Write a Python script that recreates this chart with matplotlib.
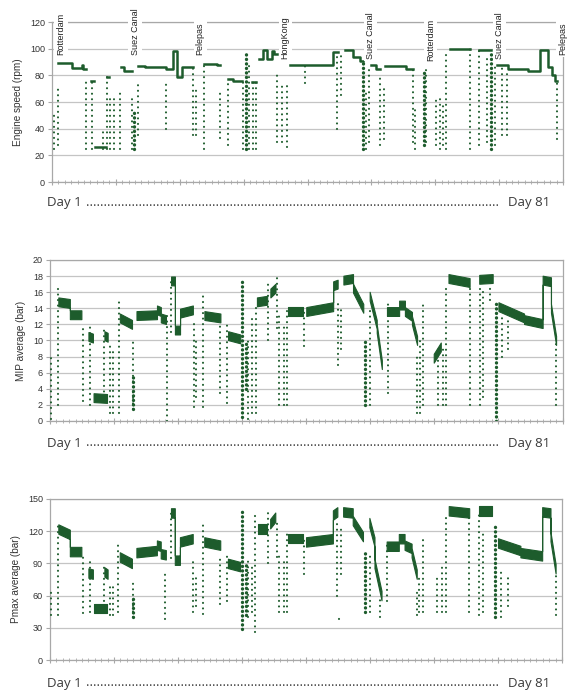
import matplotlib
matplotlib.use("Agg")
import matplotlib.pyplot as plt
import numpy as np
from matplotlib.ticker import MultipleLocator

# days run 0..80 (Day 1 .. Day 81)
GREEN = "#1d5c2c"
GRID = "#c4c4c4"
FRAME = "#a8a8a8"
TXT = "#333333"

# ---- engine speed (rpm): steady levels (day_from, day_to, rpm)
engine_levels = [
    (1.0, 3.2, 89.5), (3.2, 4.7, 85.5), (4.7, 4.9, 88), (4.9, 5.3, 85),
    (6.05, 6.6, 76), (6.7, 8.45, 26), (8.55, 8.85, 79),
    (10.8, 11.3, 86), (11.3, 12.6, 83),
    (13.4, 14.55, 87), (14.55, 17.9, 86), (17.9, 19.0, 84.5), (19.0, 19.5, 98.5),
    (19.5, 20.3, 79), (20.3, 22.1, 86),
    (23.8, 25.8, 88.5), (25.8, 26.3, 87.5),
    (27.6, 28.4, 77.5), (28.4, 29.7, 76),
    (31.3, 32.0, 75),
    (32.45, 33.1, 92.5), (33.1, 33.6, 99), (33.6, 34.4, 92), (34.4, 34.75, 98), (34.75, 35.2, 96),
    (37.25, 44.0, 87.5), (44.0, 44.75, 97.5),
    (45.85, 47.1, 98.75), (47.1, 48.2, 94), (48.2, 48.7, 91),
    (49.9, 50.7, 88), (50.7, 51.3, 85),
    (52.1, 55.4, 87), (55.4, 56.5, 85),
    (62.3, 65.4, 100),
    (66.8, 68.7, 99),
    (69.6, 71.4, 88), (71.4, 74.5, 84.5), (74.5, 76.4, 83),
    (76.4, 77.6, 99), (77.6, 78.2, 86), (78.2, 78.7, 80), (78.7, 79.0, 76),
]
# scattered readings (day, low, high)
engine_dips = [
    (0.3, 25, 51), (1.0, 28, 70), (5.3, 25, 75), (6.2, 25, 76), (8.0, 25, 40), (8.6, 25, 80),
    (9.1, 25, 65), (9.7, 25, 65), (10.7, 25, 70), (12.6, 25, 65), (13.4, 35, 75), (17.8, 40, 75),
    (22.1, 35, 86), (22.5, 35, 70), (23.8, 25, 88), (26.3, 33, 70), (27.5, 28, 75), (29.9, 25, 75),
    (30.8, 25, 90), (31.5, 25, 75), (32.0, 25, 75), (35.2, 30, 80), (36.0, 30, 75), (36.8, 26, 75),
    (39.6, 74, 87), (44.6, 40, 97), (45.2, 65, 97), (49.2, 25, 70), (49.7, 30, 88), (51.4, 28, 80),
    (52.0, 32, 70), (56.5, 30, 85), (56.9, 25, 55), (58.6, 30, 85), (60.1, 28, 62), (60.7, 25, 65),
    (61.2, 28, 60), (61.7, 25, 99), (65.4, 25, 100), (66.8, 28, 99), (68.1, 30, 95), (69.3, 28, 88),
    (70.4, 35, 88), (71.2, 35, 85), (79.0, 32, 76),
]
engine_blobs = [(12.9, 25, 55), (30.4, 25, 98), (48.7, 25, 91), (58.2, 28, 85), (68.8, 25, 99)]

ports = ["Rotterdam", "Suez Canal", "Pelepas", "HongKong", "Suez Canal", "Rotterdam", "Suez Canal", "Pelepas"]
port_days = [1.4, 13.0, 23.2, 36.5, 49.8, 59.3, 70.1, 79.9]
port_base = [95, 95, 95, 92, 92, 91, 92, 95]

# ---- MIP average (bar): (day_from, day_to, value_from, value_to)
mip_levels = [
    (1.3, 3.1, 14.8, 14.6), (3.1, 4.9, 13.2, 13.2),
    (6.0, 6.7, 10.5, 10.3), (6.8, 8.9, 2.9, 2.8), (8.5, 9.0, 10.6, 10.4),
    (10.9, 12.8, 12.8, 12.0),
    (13.5, 16.7, 13.1, 13.2), (16.7, 17.3, 13.8, 13.6), (17.3, 18.1, 12.8, 12.6),
    (18.9, 19.5, 17.4, 17.4), (19.5, 20.3, 11.3, 11.3), (20.3, 22.3, 13.4, 13.8),
    (24.1, 26.6, 13.1, 12.8),
    (27.8, 29.7, 10.6, 10.2),
    (32.3, 33.9, 14.8, 15.0), (34.4, 35.2, 15.9, 16.5),
    (37.2, 39.5, 13.6, 13.6), (40.0, 44.2, 13.6, 14.2), (44.2, 44.9, 16.8, 17.0),
    (45.8, 47.3, 17.5, 17.7), (47.3, 48.9, 16.5, 14.0),
    (49.9, 51.0, 15.5, 12.0), (51.0, 51.8, 11.5, 7.0),
    (52.6, 54.5, 13.6, 13.6), (54.5, 55.4, 14.4, 14.4), (55.4, 56.5, 13.6, 13.0), (56.5, 57.3, 12.5, 10.0),
    (59.9, 61.0, 7.8, 9.2),
    (62.2, 65.5, 17.7, 17.2),
    (67.0, 69.1, 17.6, 17.7),
    (70.0, 74.0, 14.2, 12.8), (74.0, 76.9, 12.6, 12.1),
    (76.9, 78.2, 17.5, 17.3), (78.2, 79.0, 14.0, 10.0),
]
mip_dips = [
    (0.2, 0.3, 8), (1.2, 2, 16.5), (5.2, 2.5, 12), (6.2, 2, 12), (8.5, 3, 11.3), (9.4, 1, 9.5),
    (9.9, 1, 9), (10.7, 1, 14.8), (13.0, 1.5, 10), (18.2, 0, 13), (18.9, 11, 17.5), (22.4, 1.8, 12),
    (22.8, 3, 10), (23.9, 1.8, 15.8), (26.6, 3.5, 12.5), (27.7, 2.2, 12.3), (30.9, 0.2, 10),
    (31.6, 1, 13), (32.1, 1, 14), (34.1, 10, 17.5), (35.4, 11.5, 18.3), (35.8, 2, 13), (36.5, 2, 12),
    (37.0, 2, 14), (39.7, 9.3, 13.5), (44.9, 7, 15), (45.4, 9, 14), (50.0, 2, 14), (52.7, 3.5, 15),
    (57.3, 1, 8), (57.7, 1, 10), (58.3, 2, 14.5), (60.5, 2, 9.5), (61.3, 2, 9), (61.8, 2, 17),
    (65.5, 2, 17), (67.1, 2, 17), (67.6, 3, 16), (68.7, 15, 17), (70.5, 8, 13), (71.5, 9, 13),
    (79.0, 2, 10),
]
mip_blobs = [(13.0, 1.5, 6), (30.0, 0.5, 17.5), (30.6, 4, 10), (49.2, 2, 10), (69.6, 0, 15)]

# ---- Pmax average (bar)
pmax_levels = [
    (1.3, 3.1, 122, 117), (3.1, 4.9, 101, 101),
    (6.0, 6.7, 81, 80), (6.8, 8.9, 48, 48), (8.5, 9.0, 82, 80),
    (10.9, 12.8, 96, 90),
    (13.5, 16.7, 100, 102), (16.7, 17.3, 107, 106), (17.3, 18.1, 99, 98),
    (18.9, 19.5, 137, 137), (19.5, 20.3, 93, 93), (20.3, 22.3, 110, 113),
    (24.1, 26.6, 110, 107),
    (27.8, 29.7, 90, 87),
    (32.5, 33.9, 122, 122), (34.4, 35.2, 127, 133),
    (37.2, 39.5, 113, 113), (40.0, 44.2, 110, 113), (44.2, 44.9, 135, 138),
    (45.8, 47.3, 138, 137), (47.3, 48.9, 130, 115),
    (49.9, 50.7, 128, 110), (50.7, 51.8, 90, 60),
    (52.6, 54.5, 106, 106), (54.5, 55.4, 113, 113), (55.4, 56.5, 107, 104), (56.5, 57.3, 100, 80),
    (62.3, 65.5, 139, 137),
    (67.0, 69.1, 139, 139),
    (70.0, 73.5, 109, 102), (73.5, 76.9, 100, 97),
    (76.9, 78.2, 138, 137), (78.2, 79.0, 115, 85),
]
pmax_dips = [
    (0.2, 42, 66), (1.2, 42, 125), (5.2, 44, 100), (6.2, 45, 92), (8.5, 45, 88), (9.4, 42, 70),
    (9.9, 42, 68), (10.7, 45, 111), (13.0, 40, 75), (17.9, 38, 80), (18.9, 95, 138), (22.4, 45, 95),
    (22.8, 50, 80), (23.9, 43, 126), (26.6, 52, 95), (27.7, 55, 100), (30.9, 40, 95), (31.6, 45, 90),
    (32.1, 26, 135), (34.1, 90, 140), (35.4, 96, 130), (35.8, 45, 100), (36.5, 45, 95), (37.0, 45, 120),
    (39.7, 80, 112), (44.9, 60, 130), (45.2, 38, 40), (45.4, 80, 125), (50.0, 45, 100), (51.6, 40, 60),
    (52.7, 55, 110), (57.3, 42, 65), (57.7, 45, 80), (58.3, 45, 115), (60.5, 45, 80), (61.3, 45, 90),
    (61.8, 45, 135), (65.5, 45, 135), (67.1, 42, 135), (67.6, 45, 120), (70.5, 40, 85), (71.5, 50, 80),
    (79.0, 42, 80),
]
pmax_blobs = [(13.0, 40, 60), (30.0, 29, 140), (30.6, 42, 90), (49.2, 45, 100), (69.6, 40, 125)]


def to_runs(levels):
    # join segments that follow on directly into one trace
    runs = []
    last_end = None
    for seg in levels:
        if len(seg) == 3:
            x0, x1, y0 = seg
            y1 = y0
        else:
            x0, x1, y0, y1 = seg
        if last_end is not None and abs(x0 - last_end) < 0.05:
            runs[-1][0].extend([x0, x1])
            runs[-1][1].extend([y0, y1])
        else:
            runs.append(([x0, x1], [y0, y1]))
        last_end = x1
    return runs


def draw_panel(ax, levels, dips, blobs, half=None, lw=1.8):
    for xs, ys in to_runs(levels):
        if half is None:
            ax.plot(xs, ys, color=GREEN, lw=lw, zorder=4)
        else:
            ys = np.array(ys)
            ax.fill_between(xs, ys - half, ys + half, color=GREEN, lw=0.8, edgecolor=GREEN, zorder=4)
    ax.vlines([d[0] for d in dips], [d[1] for d in dips], [d[2] for d in dips],
              colors=GREEN, linestyles=(0, (0.05, 2.6)), lw=1.5, capstyle="round", zorder=4)
    ax.vlines([b[0] for b in blobs], [b[1] for b in blobs], [b[2] for b in blobs],
              colors=GREEN, linestyles=(0, (0.05, 1.3)), lw=2.4, capstyle="round", zorder=4)


def style_axes(ax, ymax, ystep, ylabel):
    ax.set_xlim(0, 80)
    ax.set_ylim(0, ymax)
    ax.yaxis.set_major_locator(MultipleLocator(ystep))
    ax.xaxis.set_major_locator(MultipleLocator(10))
    ax.xaxis.set_minor_locator(MultipleLocator(1))
    ax.set_xticklabels([])
    ax.grid(axis="y", color=GRID, lw=0.9, zorder=0)
    ax.set_axisbelow(True)
    for s in ax.spines.values():
        s.set_color(FRAME)
        s.set_linewidth(0.9)
    ax.tick_params(axis="y", labelsize=6.5, colors=FRAME, labelcolor=TXT, length=3, width=0.8, pad=2)
    ax.tick_params(axis="x", which="major", direction="inout", length=5, width=0.8, colors=FRAME)
    ax.tick_params(axis="x", which="minor", direction="inout", length=2.5, width=0.6, colors=FRAME)
    ax.set_ylabel(ylabel, fontsize=7.2, color=TXT, labelpad=5)


plt.rcParams["font.family"] = ["Liberation Sans", "DejaVu Sans"]
fig = plt.figure(figsize=(5.78, 6.9), dpi=100)

ax1 = fig.add_axes([52 / 578, 1 - 182 / 690, 511 / 578, 160 / 690])
ax2 = fig.add_axes([50 / 578, 1 - 421 / 690, 512.5 / 578, 161 / 690])
ax3 = fig.add_axes([50 / 578, 1 - 660 / 690, 512 / 578, 161 / 690])

draw_panel(ax1, engine_levels, engine_dips, engine_blobs, lw=1.8)
style_axes(ax1, 120, 20, "Engine speed (rpm)")
for name, d, b in zip(ports, port_days, port_base):
    ax1.text(d, b, name, rotation=90, ha="center", va="bottom", fontsize=6.5, color="#222222",
             bbox=dict(facecolor="white", edgecolor="none", pad=1.5), zorder=6, clip_on=False)

draw_panel(ax2, mip_levels, mip_dips, mip_blobs, half=0.55)
style_axes(ax2, 20, 2, "MIP average (bar)")

draw_panel(ax3, pmax_levels, pmax_dips, pmax_blobs, half=4.4)
style_axes(ax3, 150, 30, "Pmax average (bar)")

# Day 1 ...... Day 81 captions below each panel
for ypx in (203, 443, 683):
    fig.text(47 / 578, 1 - ypx / 690, "Day 1", ha="left", va="center", fontsize=9.5,
             color="#3a3a3a", family="Open Sans")
    fig.text(550 / 578, 1 - ypx / 690, "Day 81", ha="right", va="center", fontsize=9.5,
             color="#3a3a3a", family="Open Sans")
    fig.text(0.5 * (83 + 502) / 578, 1 - ypx / 690, "." * 118, ha="center", va="center",
             fontsize=9.5, color="#3a3a3a", family="Open Sans")

fig.savefig("out.png", dpi=100)
